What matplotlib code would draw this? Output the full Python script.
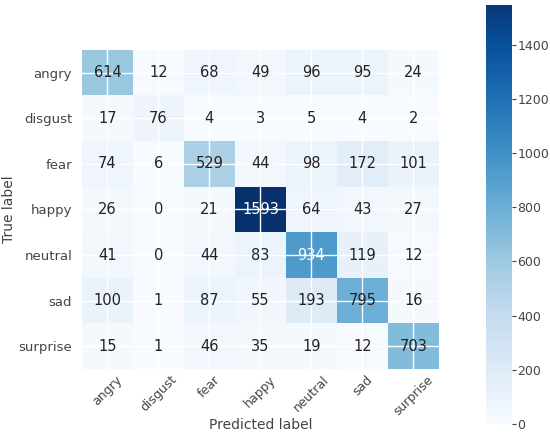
import matplotlib
matplotlib.use("Agg")
import matplotlib.pyplot as plt
import numpy as np

classes = ["angry", "disgust", "fear", "happy", "neutral", "sad", "surprise"]
cm = np.array([
    [614, 12, 68, 49, 96, 95, 24],
    [17, 76, 4, 3, 5, 4, 2],
    [74, 6, 529, 44, 98, 172, 101],
    [26, 0, 21, 1593, 64, 43, 27],
    [41, 0, 44, 83, 934, 119, 12],
    [100, 1, 87, 55, 193, 795, 16],
    [15, 1, 46, 35, 19, 12, 703],
])
cbar_ticks = [0, 200, 400, 600, 800, 1000, 1200, 1400]

fig = plt.figure(figsize=(5.5, 4.36), dpi=100)
ax = fig.add_axes([0.149, 0.154, 0.649, 0.731])
im = ax.imshow(cm, cmap="Blues", aspect="auto", vmin=0, vmax=cm.max())
ax.set_xticks(range(len(classes)))
ax.set_yticks(range(len(classes)))
ax.set_xticklabels(classes, rotation=45, ha="center", color="#444444", fontsize=9)
ax.set_yticklabels(classes, color="#444444", fontsize=9.5)
ax.tick_params(axis="y", length=0, pad=7)
ax.tick_params(axis="x", length=0, pad=3)
ax.grid(True, color="white", linewidth=1)
for s in ax.spines.values():
    s.set_visible(False)
thresh = cm.max() / 2
for i in range(cm.shape[0]):
    for j in range(cm.shape[1]):
        ax.text(j, i, str(cm[i, j]), ha="center", va="center", fontsize=10.5,
                color="white" if cm[i, j] > thresh else "#222222")
ax.set_xlabel("Predicted label", color="#444444", fontsize=10, labelpad=0)
ax.set_ylabel("True label", color="#444444", fontsize=10, labelpad=2)

cax = fig.add_axes([0.884, 0.0275, 0.047, 0.961])
cb = fig.colorbar(im, cax=cax, ticks=cbar_ticks)
cb.outline.set_visible(False)
cax.set_ylim(0, 1546)
cax.tick_params(labelsize=9, colors="#444444", length=3, width=0.8, pad=1)

fig.savefig("out.png", dpi=100)
